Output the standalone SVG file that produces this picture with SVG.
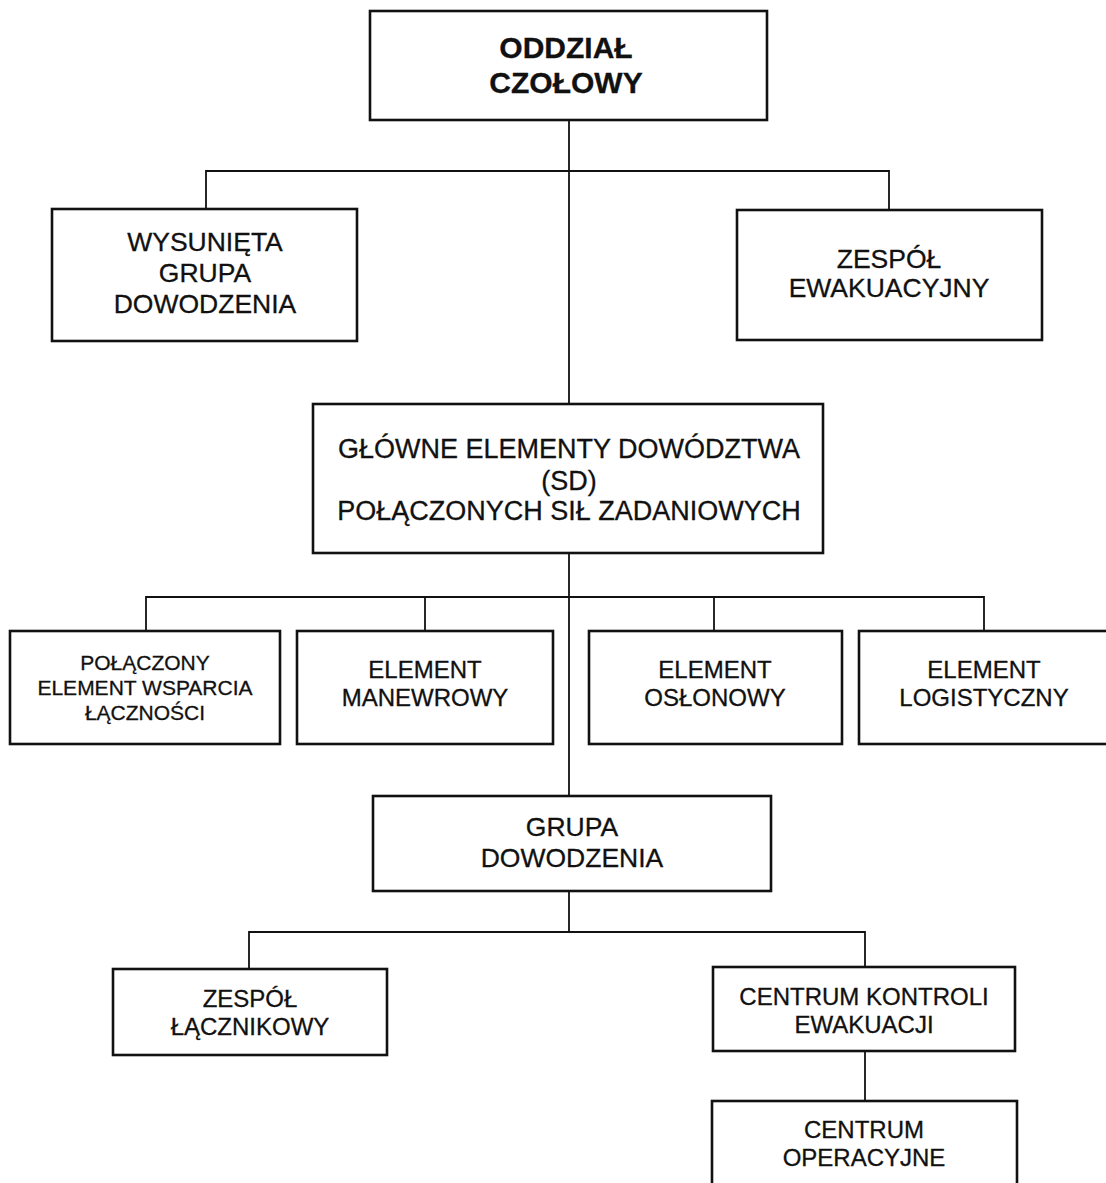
<svg xmlns="http://www.w3.org/2000/svg" width="1106" height="1183" viewBox="0 0 1106 1183">
<style>
.box{fill:#fff;stroke:#111;stroke-width:2.6}
.t{font-family:"Liberation Sans",Arial,sans-serif;fill:#111;stroke:#111;stroke-width:0.3;text-anchor:middle}
.l{fill:none;stroke:#111;stroke-width:1.8}
</style>
<rect width="1106" height="1183" fill="#fff"/>
<g id="connectors">
<path class="l" d="M569 120V796"/>
<path class="l" d="M206 209V171H889V210"/>
<path class="l" d="M146 631V597H984V631"/>
<path class="l" d="M425 597V631"/>
<path class="l" d="M714 597V631"/>
<path class="l" d="M569 891V932"/>
<path class="l" d="M249 969V932H865V967"/>
<path class="l" d="M865 1051V1101"/>
</g>
<g id="oddzial">
<rect class="box" x="370" y="11" width="397" height="109"/>
<text class="t" x="566" y="58" font-size="30" font-weight="bold">ODDZIAŁ</text>
<text class="t" x="566" y="93" font-size="30" font-weight="bold">CZOŁOWY</text>
</g>
<g id="wysunieta">
<rect class="box" x="52" y="209" width="305" height="132"/>
<text class="t" x="205" y="251" font-size="26.5">WYSUNIĘTA</text>
<text class="t" x="205" y="282" font-size="26.5">GRUPA</text>
<text class="t" x="205" y="313" font-size="26.5">DOWODZENIA</text>
</g>
<g id="zespol-ewak">
<rect class="box" x="737" y="210" width="305" height="130"/>
<text class="t" x="889" y="268" font-size="26.5">ZESPÓŁ</text>
<text class="t" x="889" y="297" font-size="26.5">EWAKUACYJNY</text>
</g>
<g id="glowne">
<rect class="box" x="313" y="404" width="510" height="149"/>
<text class="t" x="569" y="458" font-size="27">GŁÓWNE ELEMENTY DOWÓDZTWA</text>
<text class="t" x="569" y="490" font-size="27">(SD)</text>
<text class="t" x="569" y="520" font-size="27">POŁĄCZONYCH SIŁ ZADANIOWYCH</text>
</g>
<g id="polaczony">
<rect class="box" x="10" y="631" width="270" height="113"/>
<text class="t" x="145" y="670" font-size="21">POŁĄCZONY</text>
<text class="t" x="145" y="695" font-size="21">ELEMENT WSPARCIA</text>
<text class="t" x="145" y="720" font-size="21">ŁĄCZNOŚCI</text>
</g>
<g id="manewrowy">
<rect class="box" x="297" y="631" width="256" height="113"/>
<text class="t" x="425" y="678" font-size="24">ELEMENT</text>
<text class="t" x="425" y="706" font-size="24">MANEWROWY</text>
</g>
<g id="oslonowy">
<rect class="box" x="589" y="631" width="253" height="113"/>
<text class="t" x="715" y="678" font-size="24">ELEMENT</text>
<text class="t" x="715" y="706" font-size="24">OSŁONOWY</text>
</g>
<g id="logistyczny">
<rect class="box" x="859" y="631" width="252" height="113"/>
<text class="t" x="984" y="678" font-size="24">ELEMENT</text>
<text class="t" x="984" y="706" font-size="24">LOGISTYCZNY</text>
</g>
<g id="grupa">
<rect class="box" x="373" y="796" width="398" height="95"/>
<text class="t" x="572" y="836" font-size="26.5">GRUPA</text>
<text class="t" x="572" y="867" font-size="26.5">DOWODZENIA</text>
</g>
<g id="lacznikowy">
<rect class="box" x="113" y="969" width="274" height="86"/>
<text class="t" x="250" y="1007" font-size="24">ZESPÓŁ</text>
<text class="t" x="250" y="1035" font-size="24">ŁĄCZNIKOWY</text>
</g>
<g id="kontroli">
<rect class="box" x="713" y="967" width="302" height="84"/>
<text class="t" x="864" y="1005" font-size="24">CENTRUM KONTROLI</text>
<text class="t" x="864" y="1033" font-size="24">EWAKUACJI</text>
</g>
<g id="operacyjne">
<rect class="box" x="712" y="1101" width="305" height="90"/>
<text class="t" x="864" y="1138" font-size="24">CENTRUM</text>
<text class="t" x="864" y="1166" font-size="24">OPERACYJNE</text>
</g>
</svg>
